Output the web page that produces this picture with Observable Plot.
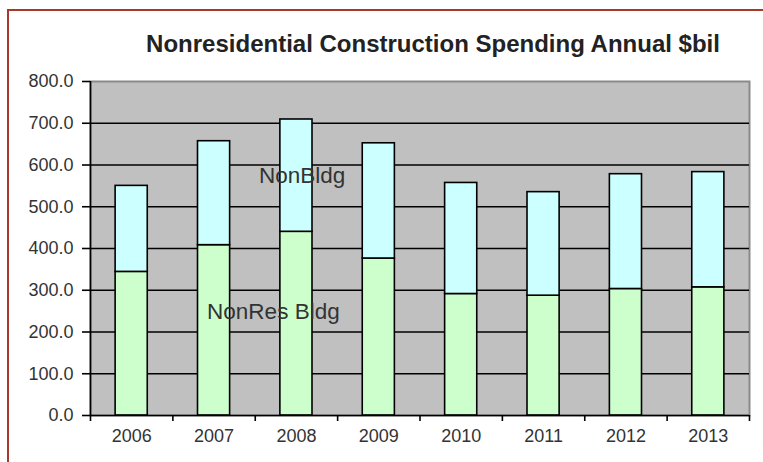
<!DOCTYPE html>
<html>
<head>
<meta charset="utf-8">
<script src="https://cdn.jsdelivr.net/npm/d3@7"></script>
<script src="https://cdn.jsdelivr.net/npm/@observablehq/plot@0.6"></script>
<style>
  html, body { margin: 0; padding: 0; background: #fff; }
  #wrap { position: relative; width: 763px; height: 462px; overflow: hidden; }
  #border { position: absolute; left: 7px; top: 9px; width: 900px; height: 600px;
            border-left: 2px solid #a8382a; border-top: 2px solid #a8382a; box-sizing: border-box; }
  #chart { position: absolute; left: 0; top: 0; }
</style>
</head>
<body>
<div id="wrap"><div id="chart"></div><div id="border"></div></div>
<script>
const years = [2006, 2007, 2008, 2009, 2010, 2011, 2012, 2013];
const nonResBldg = [344, 408, 440, 376, 291, 287, 303, 307];
const nonBldg = [206, 249, 269, 276, 266, 248, 275, 276];
const yTicks = [0, 100, 200, 300, 400, 500, 600, 700, 800];
const seriesLabels = ["NonBldg", "NonRes Bldg"];
const title = "Nonresidential Construction Spending Annual $bil";

const rows = years.map((year, i) => ({year, nonRes: nonResBldg[i], nonBldg: nonBldg[i]}));
const half = 0.195;
const boundaries = [years[0] - 0.5, ...years.map(y => y + 0.5)];

const font = "'Liberation Sans', Arial, sans-serif";

const chart = Plot.plot({
  width: 763,
  height: 462,
  marginTop: 81,
  marginBottom: 47,
  marginLeft: 90,
  marginRight: 14,
  style: {fontFamily: font, fontSize: "18px", color: "#222", background: "transparent"},
  x: {domain: [years[0] - 0.5, years[years.length - 1] + 0.5]},
  y: {domain: [0, 800]},
  marks: [
    Plot.frame({fill: "#c0c0c0", stroke: "#8a8a8a", strokeWidth: 2}),
    Plot.ruleY(yTicks.slice(1, -1), {stroke: "#000", strokeWidth: 1.6}),
    Plot.rectY(rows, {x1: d => d.year - half, x2: d => d.year + half, y1: 0, y2: d => d.nonRes,
      fill: "#ccffcc", stroke: "#000", strokeWidth: 1.6}),
    Plot.rectY(rows, {x1: d => d.year - half, x2: d => d.year + half, y1: d => d.nonRes, y2: d => d.nonRes + d.nonBldg,
      fill: "#ccffff", stroke: "#000", strokeWidth: 1.6}),
    Plot.ruleY([0], {stroke: "#000", strokeWidth: 1.6}),
    Plot.ruleX([years[0] - 0.5], {stroke: "#000", strokeWidth: 1.6}),
    Plot.axisY({ticks: yTicks, tickFormat: d => d.toFixed(1), tickSize: 8, tickPadding: 9,
      stroke: "#000", strokeWidth: 1.6, label: null, fontSize: 18, fill: "#333"}),
    Plot.axisX({ticks: boundaries, tickFormat: () => "", tickSize: 6, stroke: "#000", strokeWidth: 1.6, label: null}),
    Plot.axisX({ticks: years, tickFormat: d => String(d), tickSize: 0, tickPadding: 14, label: null, fontSize: 18, fill: "#333"}),
    Plot.text([seriesLabels[0]], {x: 2008.07, y: 574, text: d => d, fontSize: 22.5, fill: "#333"}),
    Plot.text([seriesLabels[1]], {x: 2007.72, y: 248, text: d => d, fontSize: 22.5, fill: "#333"}),
    Plot.text([title], {frameAnchor: "top", lineAnchor: "middle", dy: -37, dx: 13, text: d => d, fontSize: 24, fontWeight: "bold", fill: "#222"})
  ]
});
document.getElementById("chart").appendChild(chart);
</script>
</body>
</html>
